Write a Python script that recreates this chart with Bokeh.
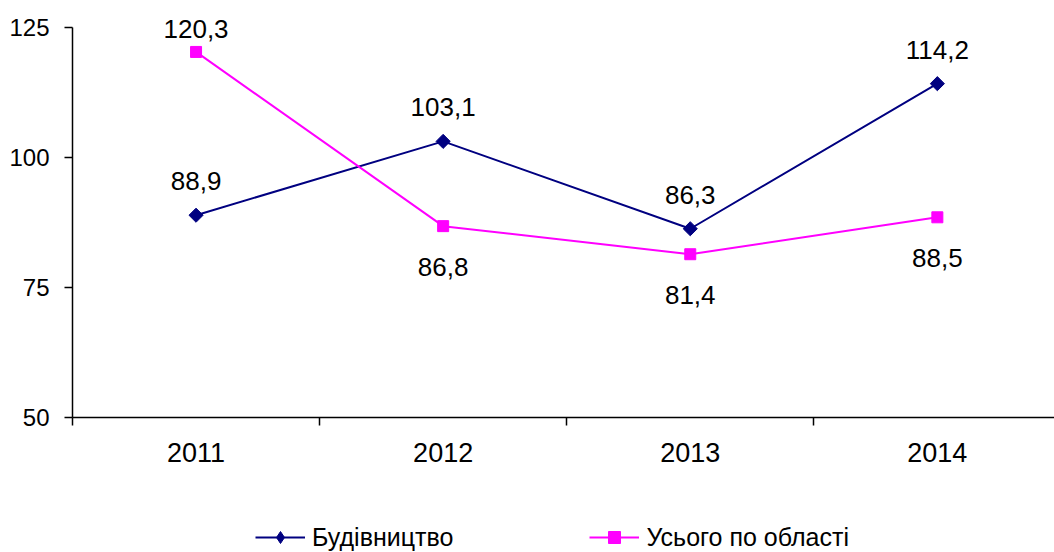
import math
from bokeh.plotting import figure
from bokeh.layouts import column
from bokeh.models import (Range1d, FixedTicker, ColumnDataSource, Legend, LegendItem)
from bokeh.embed import file_html
from bokeh.resources import INLINE

# ---- data ----
years = ["2011", "2012", "2013", "2014"]
budivnytstvo = [88.9, 103.1, 86.3, 114.2]
usogo = [120.3, 86.8, 81.4, 88.5]
y_ticks = [50, 75, 100, 125]
series_names = ["Будівництво", "Усього по області"]

FONT = "Liberation Sans"
NAVY = "#000080"
MAGENTA = "#FF00FF"

def fmt(v):
    return f"{v:.1f}".replace(".", ",")

W = 1054
MAIN_H = 480
LEG_H = 72
FRAME_LEFT = 72
FRAME_BOTTOM = 417
xs = [i + 0.5 for i in range(len(years))]
px_per_cat = 247.1
x_end = (W - FRAME_LEFT) / px_per_cat
px_per_unit = 390 / (y_ticks[-1] - y_ticks[0])
y_end = y_ticks[0] + FRAME_BOTTOM / px_per_unit

p = figure(width=W, height=MAIN_H, output_backend="svg", toolbar_location=None,
           x_range=Range1d(0, x_end), y_range=Range1d(y_ticks[0], y_end),
           min_border_left=FRAME_LEFT, min_border_right=0, min_border_top=0,
           min_border_bottom=MAIN_H - FRAME_BOTTOM)
p.outline_line_color = None
p.xgrid.visible = False
p.ygrid.visible = False
p.background_fill_color = "white"
p.border_fill_color = "white"

# x axis
p.xaxis.ticker = FixedTicker(ticks=xs, minor_ticks=list(range(len(years))))
p.xaxis.major_label_overrides = {x: y for x, y in zip(xs, years)}
p.xaxis.major_tick_line_color = None
p.xaxis.major_tick_out = 8
p.xaxis.major_tick_in = 0
p.xaxis.minor_tick_out = 8
p.xaxis.minor_tick_in = 0
p.xaxis.minor_tick_line_color = "black"
p.xaxis.minor_tick_line_width = 1.5
p.xaxis.axis_line_color = "black"
p.xaxis.axis_line_width = 1.5
p.xaxis.major_label_text_font = FONT
p.xaxis.major_label_text_font_size = "27px"
p.xaxis.major_label_text_color = "black"
p.xaxis.major_label_standoff = 17

# y axis
p.yaxis.ticker = FixedTicker(ticks=y_ticks, minor_ticks=[])
p.yaxis.bounds = (y_ticks[0], y_ticks[-1])
p.yaxis.major_tick_out = 8
p.yaxis.major_tick_in = 0
p.yaxis.major_tick_line_width = 1.5
p.yaxis.axis_line_width = 1.5
p.yaxis.axis_line_color = "black"
p.yaxis.major_label_text_font = FONT
p.yaxis.major_label_text_font_size = "24px"
p.yaxis.major_label_text_color = "black"
p.yaxis.major_label_standoff = 15

src_b = ColumnDataSource(dict(x=xs, y=budivnytstvo, t=[fmt(v) for v in budivnytstvo]))
src_u = ColumnDataSource(dict(x=xs, y=usogo, t=[fmt(v) for v in usogo]))

p.line("x", "y", source=src_b, line_color=NAVY, line_width=2)
p.scatter("x", "y", source=src_b, marker="square", angle=math.pi / 4, size=10,
          fill_color=NAVY, line_color=NAVY)
p.line("x", "y", source=src_u, line_color=MAGENTA, line_width=2)
p.scatter("x", "y", source=src_u, marker="square", size=11,
          fill_color=MAGENTA, line_color=MAGENTA)

# labels: construction labels above; regional total above only where it is the upper line
src_b.data["off"] = [-34 for _ in budivnytstvo]
src_u.data["off"] = [-23 if u > b else 41 for b, u in zip(budivnytstvo, usogo)]
for src in (src_b, src_u):
    p.text("x", "y", text="t", source=src, y_offset="off",
           text_align="center", text_baseline="middle",
           text_font={"value": FONT}, text_font_size={"value": "26px"},
           text_color="black")

# ---- legend strip (same series; its ranges keep the marks out of view) ----
lg = figure(width=W, height=LEG_H, output_backend="svg", toolbar_location=None,
            x_range=Range1d(0, 1), y_range=Range1d(0, 1),
            min_border=0, outline_line_color=None)
lg.axis.visible = False
lg.grid.visible = False
l1 = lg.line("x", "y", source=src_b, line_color=NAVY, line_width=2)
m1 = lg.scatter("x", "y", source=src_b, marker="diamond", fill_color=NAVY, line_color=NAVY)
l2 = lg.line("x", "y", source=src_u, line_color=MAGENTA, line_width=2)
m2 = lg.scatter("x", "y", source=src_u, marker="square", fill_color=MAGENTA, line_color=MAGENTA)

leg = Legend(items=[LegendItem(label=series_names[0], renderers=[l1, m1]),
                    LegendItem(label=series_names[1], renderers=[l2, m2])],
             location=(255 - FRAME_LEFT, 0), orientation="horizontal",
             padding=0, margin=0, spacing=136, border_line_color=None,
             background_fill_alpha=0, glyph_width=50, glyph_height=30,
             label_height=30, label_standoff=7,
             label_text_font=FONT, label_text_font_size="25px",
             label_text_color="black")
lg.add_layout(leg, "center")

layout = column(p, lg, spacing=0)
open("out.html", "w").write(file_html(layout, INLINE))
